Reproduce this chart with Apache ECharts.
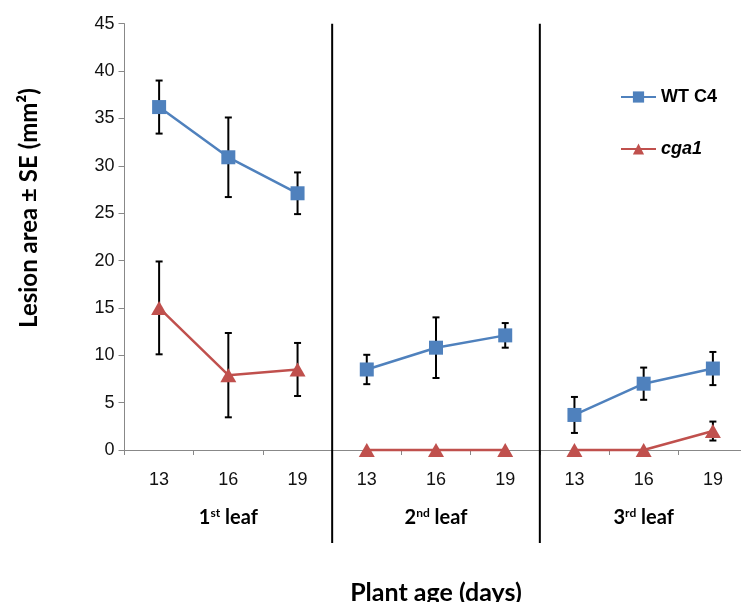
<!DOCTYPE html>
<html><head><meta charset="utf-8">
<script src="https://cdn.jsdelivr.net/npm/echarts@6/dist/echarts.min.js"></script>
<style>html,body{margin:0;padding:0;background:#fff}#c{width:741px;height:602px}</style>
</head><body><div id="c"></div>
<script>
const categories = ['13','16','19','13','16','19','13','16','19'];
const groups = [['1','st'],['2','nd'],['3','rd']];
const wtValues = [36.2, 30.9, 27.1, 8.5, 10.8, 12.1, 3.7, 7.0, 8.6];
const wtErr = [2.8, 4.2, 2.2, 1.55, 3.2, 1.3, 1.9, 1.7, 1.75];
const cgaValues = [15.0, 7.9, 8.5, 0, 0, 0, 0, 0, 2.0];
const cgaErr = [4.9, 4.45, 2.8, 0, 0, 0, 0, 0, 1.0];
const yTicks = {min: 0, max: 45, interval: 5};

const BLUE = '#4F81BD', RED = '#C0504D';
const chart = echarts.init(document.getElementById('c'));

function groupData(vals, g) {
  return vals.map((v, i) => (Math.floor(i / 3) === g ? v : null));
}
function errData(vals, errs) {
  return vals.map((v, i) => [i, v - errs[i], v + errs[i]]).filter((d, i) => errs[i] > 0);
}
function renderErr(params, api) {
  const x = api.value(0);
  const lo = api.coord([x, api.value(1)]);
  const hi = api.coord([x, api.value(2)]);
  const w = 3.5;
  const st = {stroke: '#000', lineWidth: 2};
  return {type: 'group', children: [
    {type: 'line', shape: {x1: lo[0], y1: lo[1], x2: hi[0], y2: hi[1]}, style: st},
    {type: 'line', shape: {x1: lo[0] - w, y1: lo[1], x2: lo[0] + w, y2: lo[1]}, style: st},
    {type: 'line', shape: {x1: hi[0] - w, y1: hi[1], x2: hi[0] + w, y2: hi[1]}, style: st}
  ]};
}

const series = [];
series.push({type: 'custom', name: 'errWT', renderItem: renderErr, data: errData(wtValues, wtErr), z: 1, silent: true, clip: false});
series.push({type: 'custom', name: 'errCga', renderItem: renderErr, data: errData(cgaValues, cgaErr), z: 1, silent: true, clip: false});
for (let g = 0; g < 3; g++) {
  series.push({type: 'line', name: 'WT C4', data: groupData(wtValues, g), symbol: 'rect', symbolSize: 14,
    itemStyle: {color: BLUE}, lineStyle: {color: BLUE, width: 2.5}, z: 3, connectNulls: false, clip: false});
  series.push({type: 'line', name: 'cga1', data: groupData(cgaValues, g), symbol: 'triangle', symbolSize: [16, 14],
    itemStyle: {color: RED}, lineStyle: {color: RED, width: 2.5}, z: 3, connectNulls: false, clip: false});
}

const axisColor = '#888888';
chart.setOption({
  animation: false,
  backgroundColor: '#fff',
  grid: {left: 124.5, top: 23.7, width: 623, bottom: 152, containLabel: false, outerBoundsMode: 'none'},
  legend: {
    orient: 'vertical', left: 615, top: 83, itemWidth: 35, itemHeight: 14, itemGap: 34,
    textStyle: {fontFamily: 'Liberation Sans', fontWeight: 'bold', fontSize: 18, color: '#000'},
    data: [{name: 'WT C4'}, {name: 'cga1', textStyle: {fontStyle: 'italic'}}]
  },
  xAxis: [{
    type: 'category', data: categories, boundaryGap: true,
    axisLine: {lineStyle: {color: axisColor, width: 1}},
    axisTick: {show: true, length: 5, lineStyle: {color: axisColor}},
    axisLabel: {margin: 21, fontFamily: 'Liberation Sans', fontSize: 18, color: '#111'}
  }, {
    type: 'category', position: 'bottom', data: groups.map(g => g[0] + g[1] + ' leaf'),
    axisLine: {show: false}, axisTick: {show: false},
    axisLabel: {
      margin: 57,
      formatter: (v, i) => '{b|' + groups[i][0] + '}{s|' + groups[i][1] + '}{b| leaf}',
      rich: {
        b: {fontFamily: 'Lato', fontWeight: 'bold', fontSize: 20, color: '#000', lineHeight: 22},
        s: {fontFamily: 'Lato', fontWeight: 'bold', fontSize: 12, color: '#000', verticalAlign: 'top', lineHeight: 22, padding: [0, 0, 7, 0]}
      }
    },
    name: 'Plant age (days)', nameLocation: 'middle', nameGap: 130,
    nameTextStyle: {fontFamily: 'Lato', fontWeight: 'bold', fontSize: 25, color: '#000'}
  }],
  yAxis: {
    type: 'value', min: yTicks.min, max: yTicks.max, interval: yTicks.interval,
    axisLine: {show: true, lineStyle: {color: axisColor}},
    axisTick: {show: true, length: 6, lineStyle: {color: axisColor}},
    splitLine: {show: false},
    axisLabel: {margin: 10, fontFamily: 'Liberation Sans', fontSize: 18, color: '#111'}
  },
  series: series
});

// separators between leaf groups, placed through the axis scale
const yTop = chart.convertToPixel({yAxisIndex: 0}, yTicks.max);
const seps = [2, 5].map(i => {
  const a = chart.convertToPixel({xAxisIndex: 0}, i);
  const b = chart.convertToPixel({xAxisIndex: 0}, i + 1);
  const x = (a + b) / 2;
  return {type: 'line', shape: {x1: x, y1: yTop, x2: x, y2: 543}, style: {stroke: '#000', lineWidth: 2}, z: 10};
});
chart.setOption({graphic: [
  ...seps,
  {type: 'text', x: 29, y: 208, rotation: Math.PI / 2,
   style: {text: 'Lesion area ± SE (mm²)', fontFamily: 'Lato', fontWeight: 'bold', fontSize: 24, fill: '#000', align: 'center', verticalAlign: 'middle'}}
]});
</script></body></html>
